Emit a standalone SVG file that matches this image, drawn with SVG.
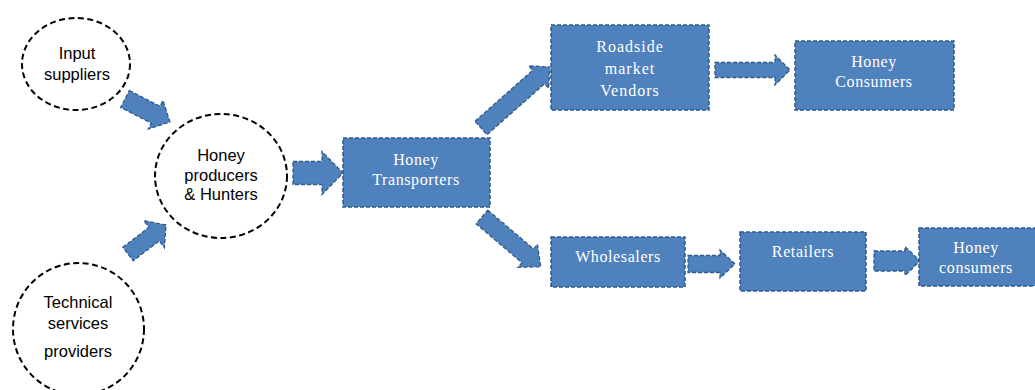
<svg xmlns="http://www.w3.org/2000/svg" width="1035" height="390" viewBox="0 0 1035 390">
  <style>
    .actor { fill: #ffffff; stroke: #000000; stroke-width: 2; stroke-dasharray: 6 3.5; }
    .box { fill: #4f81bd; stroke: #2f5a8c; stroke-width: 1.5; stroke-dasharray: 4 2; }
    .flow { fill: #4f81bd; stroke: #2f5a8c; stroke-width: 1.3; stroke-dasharray: 4 2; stroke-linejoin: miter; }
    .sans { font-family: "Liberation Sans", Arial, sans-serif; font-size: 16.5px; fill: #000000; text-anchor: middle; }
    .serif { font-family: "Liberation Serif", "Times New Roman", serif; font-size: 16px; fill: #ffffff; text-anchor: middle; letter-spacing: 0.6px; }
  </style>

  <!-- block arrows between stages -->
  <g id="connectors">
    <!-- input suppliers -> producers -->
    <path class="flow" transform="translate(125,99) rotate(27.1)" d="M0,-9.5 L34.5,-9.5 L34.5,-16 L50.5,0 L34.5,16 L34.5,9.5 L0,9.5 Z"/>
    <!-- technical services -> producers -->
    <path class="flow" transform="translate(128,254) rotate(-37.3)" d="M0,-8.5 L32.8,-8.5 L32.8,-17 L47.8,0 L32.8,17 L32.8,8.5 L0,8.5 Z"/>
    <!-- producers -> transporters -->
    <path class="flow" transform="translate(293,173)" d="M0,-11.5 L29,-11.5 L29,-21.5 L50,0 L29,21.5 L29,11.5 L0,11.5 Z"/>
    <!-- transporters -> roadside vendors -->
    <path class="flow" transform="translate(481,128) rotate(-41.5)" d="M0,-9 L77,-9 L77,-15 L92,0 L77,15 L77,9 L0,9 Z"/>
    <!-- transporters -> wholesalers -->
    <path class="flow" transform="translate(482,217) rotate(40.3)" d="M0,-9 L60,-9 L60,-15 L77,0 L60,15 L60,9 L0,9 Z"/>
    <!-- roadside vendors -> consumers -->
    <path class="flow" transform="translate(715,70)" d="M0,-7.5 L60,-7.5 L60,-15 L75,0 L60,15 L60,7.5 L0,7.5 Z"/>
    <!-- wholesalers -> retailers -->
    <path class="flow" transform="translate(688,264)" d="M0,-8.5 L32,-8.5 L32,-14 L47,0 L32,14 L32,8.5 L0,8.5 Z"/>
    <!-- retailers -> consumers -->
    <path class="flow" transform="translate(874,261)" d="M0,-10 L31,-10 L31,-14.5 L46,0 L31,14.5 L31,10 L0,10 Z"/>
  </g>

  <g id="input-suppliers">
    <ellipse class="actor" cx="76" cy="64" rx="54" ry="46"/>
    <text class="sans" x="77" y="59">Input</text>
    <text class="sans" x="77" y="80">suppliers</text>
  </g>

  <g id="producers-hunters">
    <ellipse class="actor" cx="221" cy="176" rx="66" ry="62"/>
    <text class="sans" x="221" y="161">Honey</text>
    <text class="sans" x="221" y="181">producers</text>
    <text class="sans" x="221" y="200">&amp; Hunters</text>
  </g>

  <g id="technical-services">
    <ellipse class="actor" cx="78.5" cy="329" rx="65.5" ry="66"/>
    <text class="sans" x="78" y="308">Technical</text>
    <text class="sans" x="78" y="329">services</text>
    <text class="sans" x="78" y="357">providers</text>
  </g>

  <g id="transporters">
    <rect class="box" x="343" y="138" width="147" height="69"/>
    <text class="serif" x="416" y="165">Honey</text>
    <text class="serif" x="416" y="185">Transporters</text>
  </g>

  <g id="roadside-vendors">
    <rect class="box" x="551" y="25" width="158" height="85"/>
    <text class="serif" x="630" y="52" style="letter-spacing:1px">Roadside</text>
    <text class="serif" x="630" y="74" style="letter-spacing:1px">market</text>
    <text class="serif" x="630" y="96" style="letter-spacing:1px">Vendors</text>
  </g>

  <g id="consumers-top">
    <rect class="box" x="795" y="41" width="159" height="69"/>
    <text class="serif" x="874" y="67">Honey</text>
    <text class="serif" x="874" y="87">Consumers</text>
  </g>

  <g id="wholesalers">
    <rect class="box" x="551" y="237" width="134" height="50"/>
    <text class="serif" x="618" y="262">Wholesalers</text>
  </g>

  <g id="retailers">
    <rect class="box" x="740" y="232" width="126" height="59"/>
    <text class="serif" x="803" y="257">Retailers</text>
  </g>

  <g id="consumers-bottom">
    <rect class="box" x="919" y="228" width="118" height="58"/>
    <text class="serif" x="976" y="253">Honey</text>
    <text class="serif" x="976" y="273">consumers</text>
  </g>
</svg>
